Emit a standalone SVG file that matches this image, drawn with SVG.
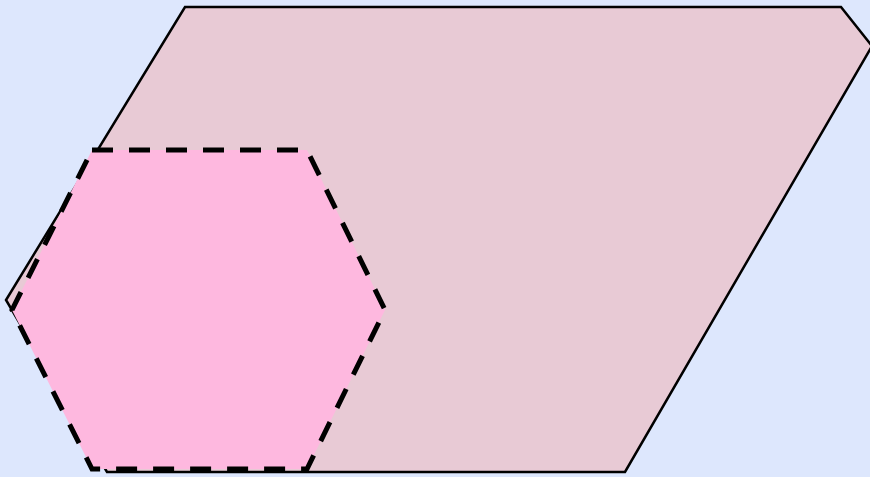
<svg xmlns="http://www.w3.org/2000/svg" width="870" height="477" viewBox="0 0 870 477">
<style>
.bg{fill:#dde7fd}
.big{fill:#e8cad5;stroke:#000;stroke-width:2.5;stroke-linejoin:miter}
.hex{fill:#feb8df;stroke:#000;stroke-width:5;stroke-dasharray:21 16}
</style>
<rect class="bg" x="0" y="0" width="870" height="477"/>
<g id="shape-big">
<polygon class="big" points="185,7 841,7 872,46 625,472 107,472 6,300"/>
</g>
<g id="shape-hex">
<polygon class="hex" points="92,150 307,150 385,310 307,469 92,469 12,310"/>
</g>
<g id="connectors"/>
</svg>
